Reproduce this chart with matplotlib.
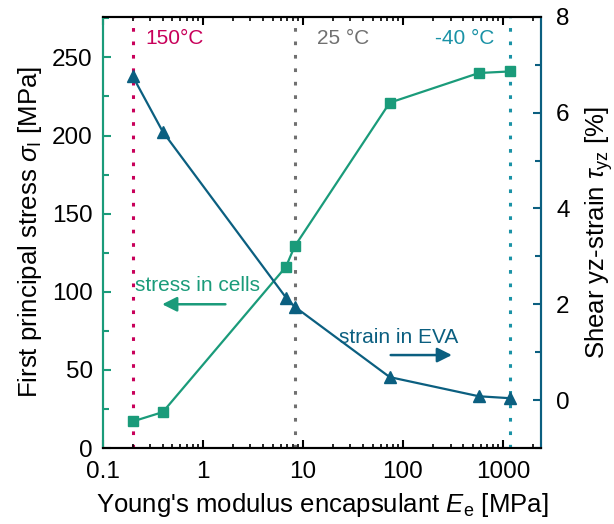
import matplotlib
matplotlib.use("Agg")
import matplotlib.pyplot as plt
from matplotlib.ticker import FixedLocator, NullFormatter, LogLocator, FuncFormatter, MultipleLocator

plt.rcParams['font.family'] = ['Liberation Sans', 'DejaVu Sans']
plt.rcParams['mathtext.fontset'] = 'custom'
plt.rcParams['mathtext.rm'] = 'Liberation Sans'
plt.rcParams['mathtext.it'] = 'Liberation Sans:italic'

# data
modulus = [0.2, 0.4, 6.8, 8.3, 74, 575, 1170]
stress = [17, 23, 116, 129, 221, 240, 241]
strain = [6.76, 5.6, 2.14, 1.95, 0.48, 0.08, 0.04]
temp_x = [0.2, 8.3, 1170]
temp_labels = ["150°C", "25 °C", "-40 °C"]

green = "#1a9b7a"
blue = "#0b5f80"
temp_colors = ["#c8005a", "#707070", "#1a92a6"]

fig = plt.figure(figsize=(6.14, 5.24), dpi=100)
ax1 = fig.add_axes([0.167, 0.145, 0.714, 0.823])
ax2 = ax1.twinx()

for xv, c in zip(temp_x, temp_colors):
    ax1.axvline(xv, color=c, lw=2.2, ls=(0, (1.2, 3.2)), zorder=1)

ax1.text(0.265, 262, temp_labels[0], color=temp_colors[0], fontsize=15, va='center', ha='left')
ax1.text(14, 262, temp_labels[1], color=temp_colors[1], fontsize=15, va='center', ha='left')
ax1.text(820, 262, temp_labels[2], color=temp_colors[2], fontsize=15, va='center', ha='right')

ax1.plot(modulus, stress, color=green, lw=1.6, marker='s', ms=7, zorder=3)
ax2.plot(modulus, strain, color=blue, lw=1.6, marker='^', ms=8, zorder=3)

ax1.text(0.21, 104, "stress in cells", color=green, fontsize=15, va='center', ha='left')
ax1.annotate("", xy=(0.37, 92), xytext=(1.8, 92),
             arrowprops=dict(arrowstyle='-|>', color=green, lw=1.8, mutation_scale=22))
ax2.text(23, 1.3, "strain in EVA", color=blue, fontsize=15, va='center', ha='left')
ax2.annotate("", xy=(330, 0.94), xytext=(71, 0.94),
             arrowprops=dict(arrowstyle='-|>', color=blue, lw=1.8, mutation_scale=22))

ax1.set_xscale('log')
ax1.set_xlim(0.1, 2400)
ax1.set_ylim(0, 276)
ax2.set_ylim(-1, 8)

ax1.xaxis.set_major_locator(FixedLocator([0.1, 1, 10, 100, 1000]))
ax1.xaxis.set_major_formatter(FuncFormatter(lambda v, p: "%g" % v))
ax1.xaxis.set_minor_locator(LogLocator(base=10, subs=range(2, 10), numticks=20))
ax1.xaxis.set_minor_formatter(NullFormatter())
ax1.yaxis.set_major_locator(MultipleLocator(50))
ax1.yaxis.set_minor_locator(MultipleLocator(25))
ax2.yaxis.set_major_locator(MultipleLocator(2))
ax2.yaxis.set_minor_locator(MultipleLocator(1))

ax1.tick_params(axis='x', which='both', direction='in', top=True, labelsize=17.5, pad=9)
ax1.tick_params(axis='x', which='major', length=6, width=1.5)
ax1.tick_params(axis='x', which='minor', length=3, width=1.2)
ax1.tick_params(axis='y', which='both', direction='in', colors=green, labelcolor='black',
                labelsize=17.5, pad=7)
ax1.tick_params(axis='y', which='major', length=6, width=1.5)
ax1.tick_params(axis='y', which='minor', length=4, width=1.5)
ax2.tick_params(axis='y', which='both', direction='in', colors=blue, labelcolor='black',
                labelsize=17.5, pad=11)
ax2.tick_params(axis='y', which='major', length=6, width=1.5)
ax2.tick_params(axis='y', which='minor', length=4, width=1.5)

for ax in (ax1, ax2):
    for s in ax.spines.values():
        s.set_linewidth(1.5)
    ax.spines['left'].set_color(green)
    ax.spines['right'].set_color(blue)

ax1.set_xlabel("Young's modulus encapsulant $E_\\mathrm{e}$ [MPa]", fontsize=18.5, labelpad=6)
ax1.set_ylabel("First principal stress $\\sigma_\\mathrm{I}$ [MPa]", fontsize=18.5, labelpad=6)
ax2.set_ylabel("Shear yz-strain $\\tau_\\mathrm{yz}$ [%]", fontsize=18.5, labelpad=10)

fig.savefig("out.png", dpi=100)
